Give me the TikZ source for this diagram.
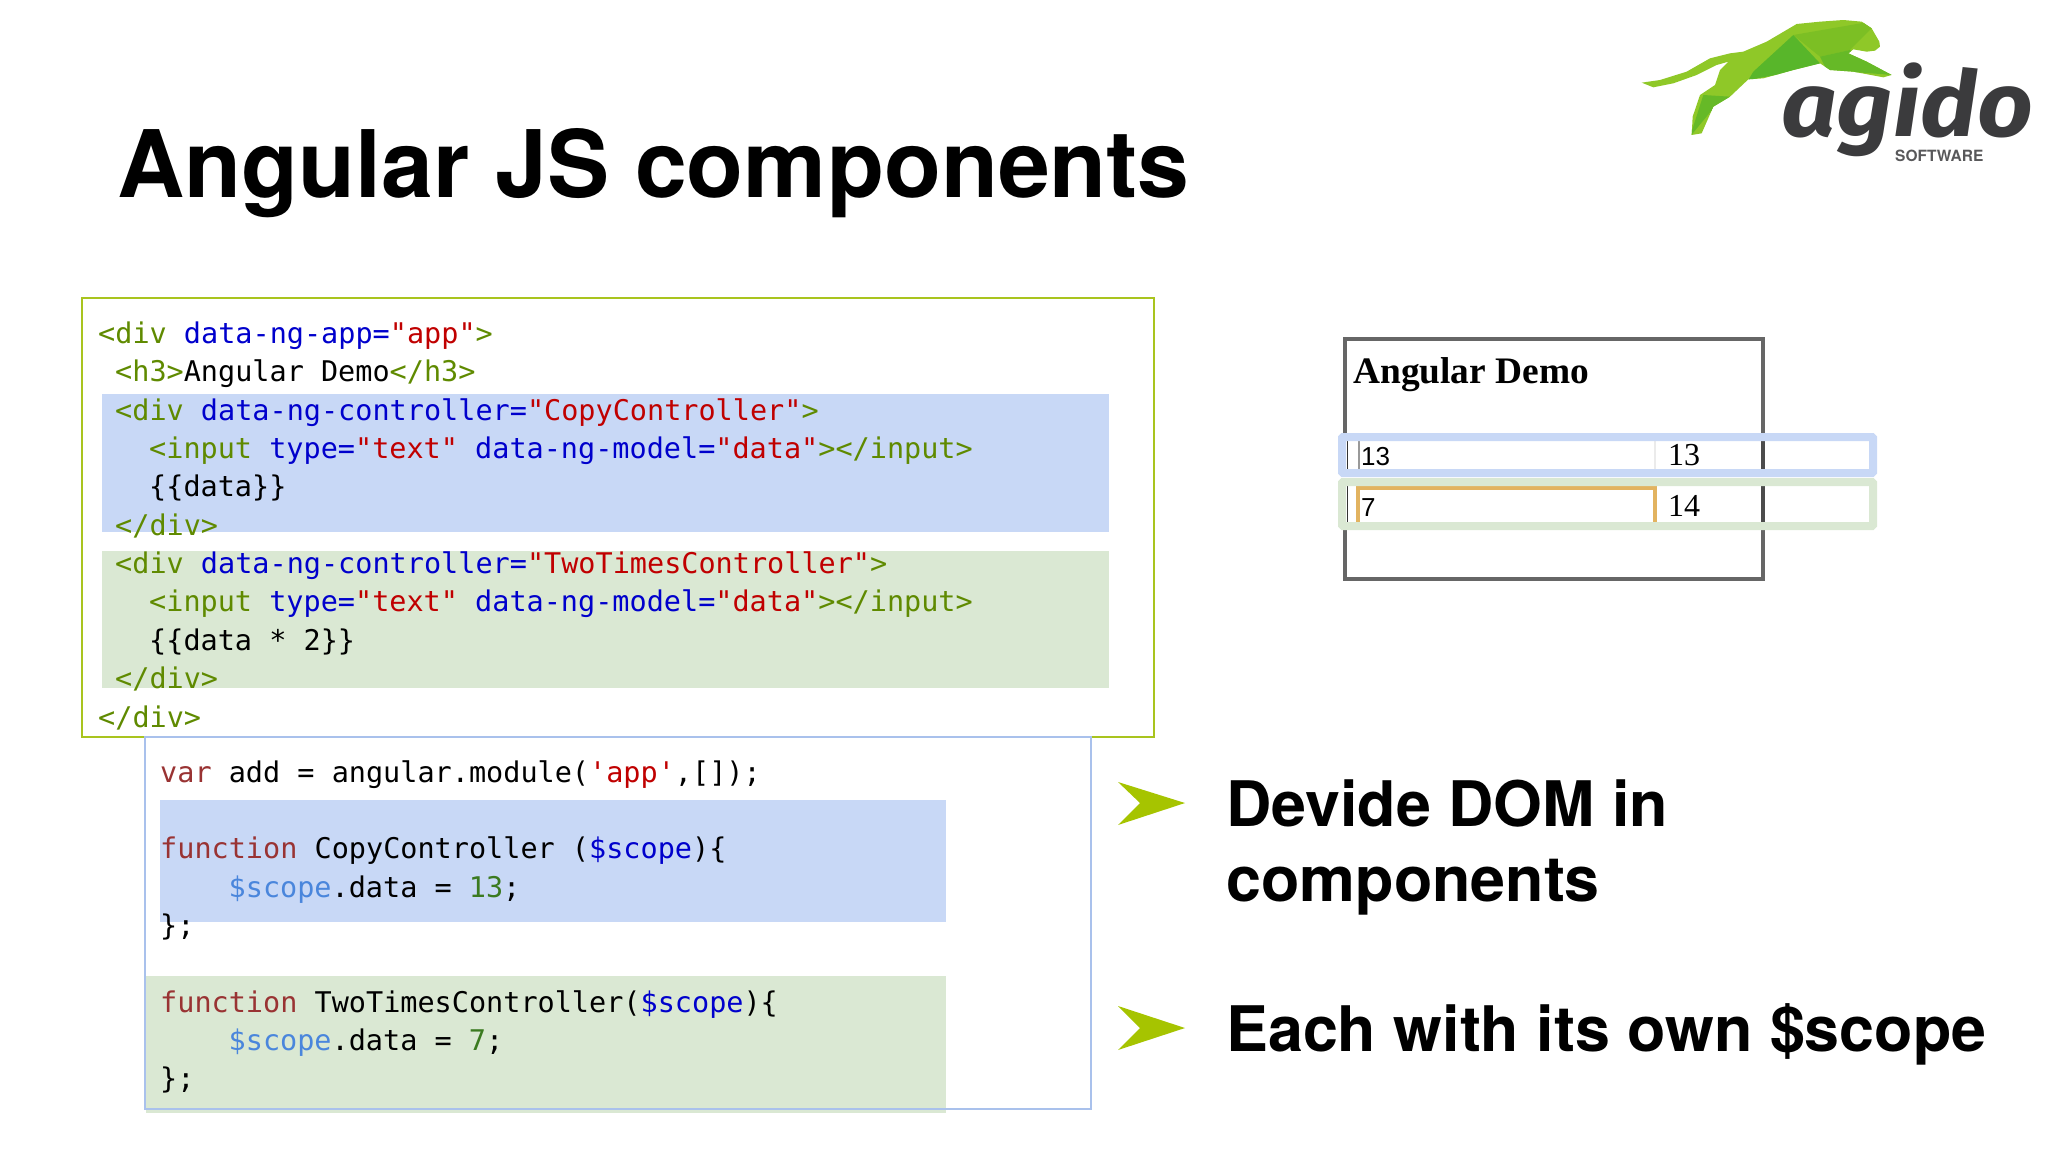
\documentclass[tikz,border=0pt]{standalone}
\usepackage{fontspec}
\setmainfont{TeX Gyre Heros}
\setmonofont{DejaVu Sans Mono}
\newfontfamily\demofont{Liberation Serif}
\newfontfamily\inputfont{Liberation Sans}
\newfontfamily\logofont{Fira Sans}
\definecolor{tagc}{HTML}{5F8A00}
\definecolor{attrc}{HTML}{0000CC}
\definecolor{strc}{HTML}{C00000}
\definecolor{kwc}{HTML}{993333}
\definecolor{varc}{HTML}{4A86DC}
\definecolor{numc}{HTML}{3B7A20}
\definecolor{barblue}{HTML}{C8D8F6}
\definecolor{bargreen}{HTML}{DAE8D3}
\definecolor{olive}{HTML}{A9C41E}
\definecolor{bulletc}{HTML}{A6C400}
\definecolor{boxblue}{HTML}{A9C1EC}
\definecolor{logodark}{HTML}{3B3B3D}
\definecolor{inputc}{HTML}{E2B360}
\definecolor{catlight}{HTML}{8FC828}
\definecolor{catmid}{HTML}{7CBF24}
\definecolor{catdark}{HTML}{58B62A}
\definecolor{catdeep}{HTML}{66B927}
\newcommand{\ctag}[1]{\textcolor{tagc}{#1}}
\newcommand{\cattr}[1]{\textcolor{attrc}{#1}}
\newcommand{\cstr}[1]{\textcolor{strc}{#1}}
\newcommand{\ckw}[1]{\textcolor{kwc}{#1}}
\newcommand{\cvar}[1]{\textcolor{varc}{#1}}
\newcommand{\cnum}[1]{\textcolor{numc}{#1}}
\begin{document}
\begin{tikzpicture}[x=1pt,y=-1pt]
\useasboundingbox (0,0) rectangle (2048,1152);
\begin{scope}[codeline/.style={anchor=base west,inner sep=0pt,font=\ttfamily\fontsize{28.5}{34}\selectfont},
              headline/.style={anchor=base west,inner sep=0pt,font=\bfseries\fontsize{62.8}{70}\selectfont},
              demoval/.style={anchor=base west,inner sep=0pt,font=\demofont\fontsize{32}{36}\selectfont},
              inputval/.style={anchor=base west,inner sep=0pt,font=\inputfont\fontsize{26}{30}\selectfont},
              bullet/.style={fill=bulletc}]
    \node [anchor=base west,inner sep=0pt,font=\bfseries\fontsize{93.2}{100}\selectfont] (title) at (117,197.5) {Angular JS components};
% code boxes
    \draw [olive,line width=2.5pt] (82,298) rectangle (1154,737);
    \fill [barblue] (102,394) rectangle (1109,532);
    \fill [bargreen] (102,551) rectangle (1109,688);
    \draw [boxblue,line width=2pt,fill=white] (145,737) rectangle (1091,1109);
    \fill [barblue] (160,800) rectangle (946,922);
    \fill [bargreen] (146,976) rectangle (946,1113);
    \draw [boxblue,line width=2pt] (145,1109) -- (1091,1109);
% markup
    \node [codeline] (h1) at (98,343) {\ctag{<div} \cattr{data-ng-app=}\cstr{"app"}\ctag{>}};
    \node [codeline] (h2) at (115,381.5) {\ctag{<h3>}Angular Demo\ctag{</h3>}};
    \node [codeline] (h3) at (115,420) {\ctag{<div} \cattr{data-ng-controller=}\cstr{"CopyController"}\ctag{>}};
    \node [codeline] (h4) at (149,458) {\ctag{<input} \cattr{type=}\cstr{"text"} \cattr{data-ng-model=}\cstr{"data"}\ctag{></input>}};
    \node [codeline] (h5) at (149,496.5) {\{\{data\}\}};
    \node [codeline] (h6) at (115,535) {\ctag{</div>}};
    \node [codeline] (h7) at (115,573) {\ctag{<div} \cattr{data-ng-controller=}\cstr{"TwoTimesController"}\ctag{>}};
    \node [codeline] (h8) at (149,611.5) {\ctag{<input} \cattr{type=}\cstr{"text"} \cattr{data-ng-model=}\cstr{"data"}\ctag{></input>}};
    \node [codeline] (h9) at (149,650) {\{\{data * 2\}\}};
    \node [codeline] (h10) at (115,688.5) {\ctag{</div>}};
    \node [codeline] (h11) at (98,727) {\ctag{</div>}};
% script
    \node [codeline] (s1) at (160,782) {\ckw{var} add = angular.module(\cstr{'app'},[]);};
    \node [codeline] (s2) at (160,858.5) {\ckw{function} CopyController (\cattr{\$scope})\{};
    \node [codeline] (s3) at (228.5,897) {\cvar{\$scope}.data = \cnum{13};};
    \node [codeline] (s4) at (160,935) {\};};
    \node [codeline] (s5) at (160,1012) {\ckw{function} TwoTimesController(\cattr{\$scope})\{};
    \node [codeline] (s6) at (228.5,1050) {\cvar{\$scope}.data = \cnum{7};};
    \node [codeline] (s7) at (160,1088.5) {\};};
% rendered page
    \draw [black!60,line width=4.5pt] (1345,339) rectangle (1763,579);
    \node [anchor=base west,inner sep=0pt,font=\demofont\bfseries\fontsize{37.4}{40}\selectfont] (demo) at (1353,383) {Angular Demo};
    \fill [white] (1342,437) rectangle (1873,526);
    \draw [black!70,line width=4.5pt] (1763,441) -- (1763,469) (1763,486) -- (1763,522);
    \draw [black!80,line width=0.8pt] (1347,441) -- (1347,469) (1347,486) -- (1347,522);
    \draw [black!40,line width=2.5pt] (1359,441) -- (1359,469);
    \draw [black!8,line width=1.5pt] (1655,441) -- (1655,469);
    \draw [inputc,line width=3.5pt] (1358,522) -- (1358,488) -- (1655,488) -- (1655,522);
    \node [inputval] (in1) at (1361,465) {13};
    \node [inputval] (in2) at (1361,516) {7};
    \node [demoval] (out1) at (1668,465.5) {13};
    \node [demoval] (out2) at (1668,516.5) {14};
    \draw [barblue,line width=8pt,rounded corners=1pt] (1342,437) rectangle (1873,473);
    \draw [bargreen,line width=8pt,rounded corners=1pt] (1342,482) rectangle (1873,526);
% bullets
    \fill [bullet] (1118,782) -- (1185,803) -- (1118,825) -- (1140,803) -- cycle;
    \fill [bullet] (1118,1006) -- (1185,1028) -- (1118,1050) -- (1140,1028) -- cycle;
    \node [headline] (t1) at (1226,826) {Devide DOM in};
    \node [headline] (t2) at (1226,901) {components};
    \node [headline] (t3) at (1226,1051) {Each with its own \$scope};
% logo
    \node [anchor=base west,inner sep=0pt,text=logodark,font=\logofont\bfseries\itshape\fontsize{91}{100}\selectfont] (agido) at (1781,136) {\smash{\scalebox{1.07}[1]{agido}}};
    \node [anchor=base west,inner sep=0pt,text=logodark!85,font=\bfseries\fontsize{15.5}{18}\selectfont] (soft) at (1895,161) {SOFTWARE};
    \begin{scope}[shift={(1620,0)},x=0.3333pt,y=-0.3333pt]
        \path [clip] (65,248) -- (120,240) -- (200,215) -- (270,175) -- (330,160) -- (370,155) -- (440,125) -- (530,72) -- (600,65) -- (670,60) -- (725,65) -- (755,85) -- (778,125) -- (780,140) -- (765,152) -- (740,155) -- (700,148) -- (685,160) -- (740,185) -- (815,225) -- (790,232) -- (700,215) -- (630,210) -- (600,190) -- (520,210) -- (430,235) -- (385,238) -- (330,290) -- (280,320) -- (245,400) -- (215,405) -- (218,350) -- (240,285) -- (285,255) -- (300,210) -- (325,185) -- (290,195) -- (230,225) -- (160,250) -- (100,262) -- cycle;
        \fill [catlight] (50,50) rectangle (830,420);
        \fill [catdark] (385,240) -- (400,215) -- (520,105) -- (600,190) -- (520,215) -- cycle;
        \fill [catdeep] (210,410) -- (250,285) -- (330,290) -- (280,325) -- cycle;
        \fill [catmid] (520,105) -- (780,60) -- (690,150) -- (600,170) -- cycle;
        \fill [catdeep] (690,150) -- (820,225) -- (620,210) -- (600,170) -- cycle;
    \end{scope}
\end{scope}
\end{tikzpicture}
\end{document}
